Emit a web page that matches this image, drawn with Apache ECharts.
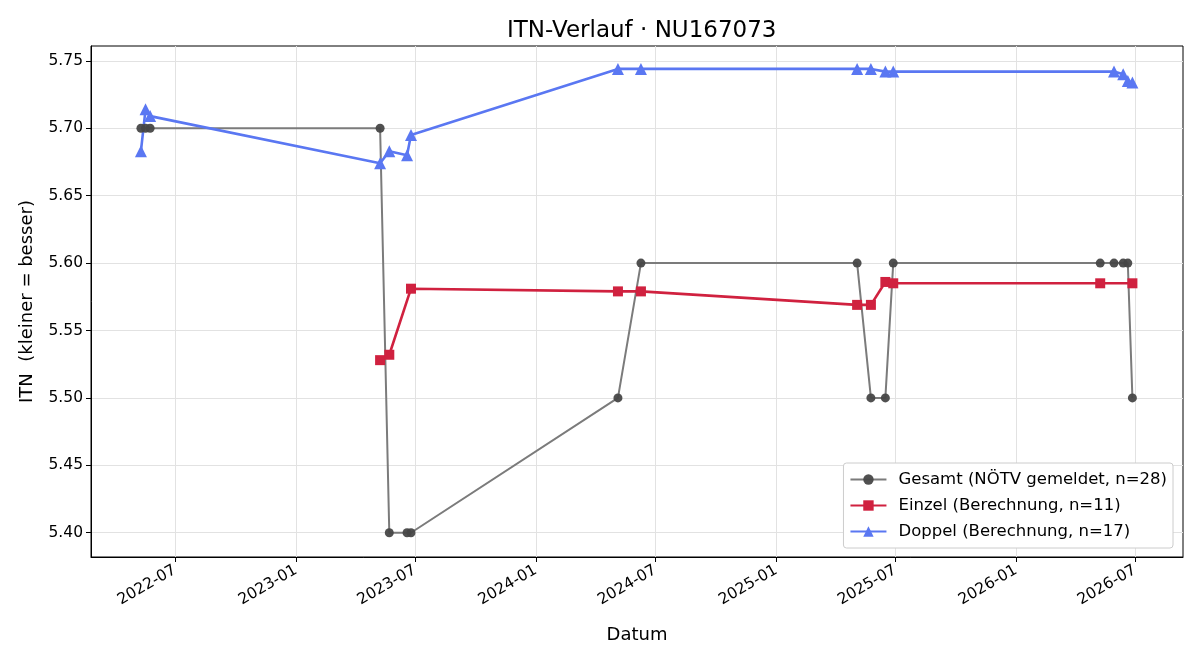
<!DOCTYPE html>
<html>
<head>
<meta charset="utf-8">
<script src="https://cdn.jsdelivr.net/npm/echarts@6/dist/echarts.min.js"></script>
<style>
html, body { margin: 0; padding: 0; background: #fff; }
#chart1 { width: 1200px; height: 660px; }
</style>
</head>
<body>
<div id="chart1"></div>
<script>
// Gesamt (NÖTV gemeldet)
var gesamtDates = ['2022-05-10', '2022-05-17', '2022-05-24', '2023-05-09', '2023-05-23', '2023-06-19', '2023-06-25',
    '2024-05-05', '2024-06-09', '2025-05-04', '2025-05-25', '2025-06-16', '2025-06-28',
    '2026-05-09', '2026-05-30', '2026-06-13', '2026-06-20', '2026-06-27'];
var gesamtValues = [5.70, 5.70, 5.70, 5.70, 5.40, 5.40, 5.40, 5.50, 5.60, 5.60, 5.50, 5.50, 5.60, 5.60, 5.60, 5.60, 5.60, 5.50];

// Einzel (Berechnung)
var einzelDates = ['2023-05-09', '2023-05-23', '2023-06-25', '2024-05-05', '2024-06-09', '2025-05-04', '2025-05-25',
    '2025-06-16', '2025-06-28', '2026-05-09', '2026-06-27'];
var einzelValues = [5.528, 5.532, 5.581, 5.579, 5.579, 5.569, 5.569, 5.586, 5.585, 5.585, 5.585];

// Doppel (Berechnung)
var doppelDates = ['2022-05-10', '2022-05-17', '2022-05-24', '2023-05-09', '2023-05-23', '2023-06-19', '2023-06-25',
    '2024-05-05', '2024-06-09', '2025-05-04', '2025-05-25', '2025-06-16', '2025-06-28',
    '2026-05-30', '2026-06-13', '2026-06-20', '2026-06-27'];
var doppelValues = [5.683, 5.714, 5.709, 5.674, 5.683, 5.680, 5.695, 5.744, 5.744, 5.744, 5.744, 5.742, 5.742,
    5.742, 5.740, 5.735, 5.734];

var xTicks = ['2022-07-01', '2023-01-01', '2023-07-01', '2024-01-01', '2024-07-01', '2025-01-01', '2025-07-01', '2026-01-01', '2026-07-01'];
var yTicks = [5.40, 5.45, 5.50, 5.55, 5.60, 5.65, 5.70, 5.75];

function ts(s) { return +echarts.time.parse(s); }
function pairs(d, v) { return d.map(function (x, i) { return [ts(x), v[i]]; }); }

var font = 'DejaVu Sans';

option = {
    animation: false,
    title: {
        text: 'ITN-Verlauf · NU167073',
        left: 502, // über der Plotfläche zentriert
        top: 15,
        textStyle: { fontFamily: font, fontSize: 23, fontWeight: 'normal', color: '#000' }
    },
    grid: {
        left: 91, right: 17, top: 46, bottom: 103,
        show: true, borderColor: '#000', borderWidth: 1
    },
    legend: {
        orient: 'vertical',
        right: 27, bottom: 112,
        padding: [8, 6, 8, 6],
        itemGap: 9,
        itemWidth: 36, itemHeight: 13,
        backgroundColor: '#fff',
        borderColor: '#cccccc', borderWidth: 1, borderRadius: 3,
        textStyle: { fontFamily: font, fontSize: 16.5, color: '#000', padding: [0, 0, 0, 7] }
    },
    xAxis: {
        type: 'value',
        min: ts('2022-02-23'),
        max: ts('2026-09-12'),
        name: 'Datum',
        nameLocation: 'middle',
        nameGap: 69,
        nameTextStyle: { fontFamily: font, fontSize: 18, color: '#000' },
        axisLine: { onZero: false, lineStyle: { color: '#000' } },
        axisTick: { show: true, length: 5, customValues: xTicks.map(ts), lineStyle: { color: '#000' } },
        axisLabel: {
            customValues: xTicks.map(ts),
            rotate: 30,
            margin: 12,
            fontFamily: font, fontSize: 15.5, color: '#000',
            formatter: function (v) { return echarts.time.format(v, '{yyyy}-{MM}', false); }
        },
        splitLine: { show: true, lineStyle: { color: '#e2e2e2', width: 1 } }
    },
    yAxis: {
        type: 'value',
        min: 5.382,
        max: 5.761,
        name: 'ITN  (kleiner = besser)',
        nameLocation: 'middle',
        nameGap: 55,
        nameTextStyle: { fontFamily: font, fontSize: 18, color: '#000' },
        axisLine: { show: true, lineStyle: { color: '#000' } },
        axisTick: { show: true, length: 5, customValues: yTicks, lineStyle: { color: '#000' } },
        axisLabel: {
            customValues: yTicks,
            fontFamily: font, fontSize: 15.5, color: '#000',
            formatter: function (v) { return v.toFixed(2); }
        },
        splitLine: { show: true, lineStyle: { color: '#e2e2e2', width: 1 } }
    },
    series: [
        {
            name: 'Gesamt (NÖTV gemeldet, n=28)',
            type: 'line',
            data: pairs(gesamtDates, gesamtValues),
            symbol: 'circle',
            symbolSize: 9,
            lineStyle: { color: '#7b7b7b', width: 2 },
            itemStyle: { color: '#474747', opacity: 0.95 }
        },
        {
            name: 'Einzel (Berechnung, n=11)',
            type: 'line',
            data: pairs(einzelDates, einzelValues),
            symbol: 'rect',
            symbolSize: 10,
            lineStyle: { color: '#d0213f', width: 2.6 },
            itemStyle: { color: '#d0213f' }
        },
        {
            name: 'Doppel (Berechnung, n=17)',
            type: 'line',
            data: pairs(doppelDates, doppelValues),
            symbol: 'triangle',
            symbolSize: 12,
            lineStyle: { color: '#5a77f2', width: 2.6 },
            itemStyle: { color: '#5a77f2' }
        }
    ]
};

var myChart = echarts.init(document.getElementById('chart1'));
myChart.setOption(option);
</script>
</body>
</html>
